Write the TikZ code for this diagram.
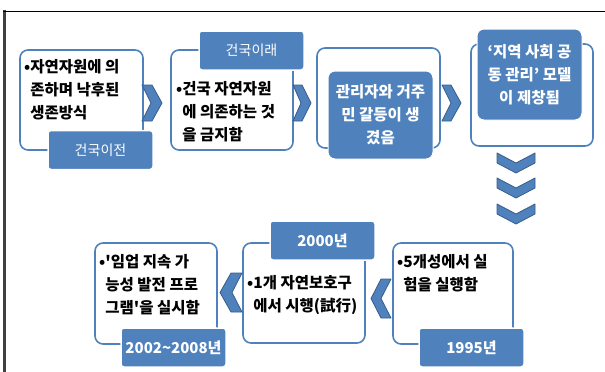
\documentclass[tikz,border=0pt]{standalone}
\usepackage{fontspec}
\newfontfamily\kr{Noto Sans CJK KR}
\definecolor{ofblue}{HTML}{4F81BD}
\definecolor{ofdark}{HTML}{385D8A}
\begin{document}
\begin{tikzpicture}[x=1pt,y=-1pt]
            \tikzstyle{every node}+=[inner sep=0pt]
            \tikzstyle{wbox}=[draw=ofblue, line width=1.6pt, fill=white, rounded corners=8pt]
            \tikzstyle{bbox}=[draw=white, line width=1pt, fill=ofblue, rounded corners=7pt, text=white, align=center, font=\kr\bfseries\fontsize{15.5}{23}\selectfont]
            \tikzstyle{lbox}=[draw=white, line width=1.5pt, fill=ofblue, rounded corners=3pt, text=white, minimum width=105pt, minimum height=39pt]
            \tikzstyle{txt}=[anchor=north west, align=left, font=\kr\bfseries\fontsize{15.5}{23}\selectfont]
            \tikzstyle{chev}=[fill=ofblue, draw=ofdark, line width=0.8pt, line join=round]
                \useasboundingbox (0,0) rectangle (605,372);
                % frame
                \fill [black!75] (3,10) rectangle (6,372);
                \draw [black, line width=0.8pt] (3,11) -- (605,11);
                % top row
                \node [wbox, minimum width=123pt, minimum height=100pt] (b1) at (81.5,100) {};
                \node [txt] (t1) at (24,59) {•자연자원에 의\\\phantom{•}존하며 낙후된\\\phantom{•}생존방식};
                \node [lbox, font=\kr\fontsize{14}{16}\selectfont] (l1) at (100.5,150) {건국이전};
                \draw [chev] (142,85) -- (152,85) -- (162,103) -- (152,121) -- (142,121) -- (151,103) -- cycle;
                \node [wbox, minimum width=122pt, minimum height=100pt] (b2) at (232,100) {};
                \node [txt] (t2) at (176,81) {•건국 자연자원\\\phantom{•}에 의존하는 것\\\phantom{•}을 금지함};
                \node [lbox, font=\kr\fontsize{14}{16}\selectfont] (l2) at (251.5,50.5) {건국이래};
                \draw [chev] (293,85) -- (302,85) -- (311,103) -- (302,121) -- (293,121) -- (301,103) -- cycle;
                \node [wbox, minimum width=123pt, minimum height=100pt] (b3) at (378.5,98) {};
                \node [bbox, minimum width=105pt, minimum height=88pt] (c3) at (380.5,115) {관리자와 거주\\민 갈등이 생\\겼음};
                \draw [chev] (442,85) -- (451,85) -- (461,103) -- (451,121) -- (442,121) -- (451,103) -- cycle;
                \node [wbox, minimum width=122pt, minimum height=102pt] (b4) at (532,95) {};
                \node [bbox, minimum width=105pt, minimum height=91pt] (c4) at (529.5,74.5) {‘지역 사회 공\\동 관리’ 모델\\이 제창됨};
                % down
                \draw [chev] (497,153) -- (516,163) -- (535,153) -- (535,163) -- (516,173) -- (497,163) -- cycle;
                \draw [chev] (497,178) -- (516,188) -- (535,178) -- (535,188) -- (516,198) -- (497,188) -- cycle;
                \draw [chev] (497,204) -- (516,214) -- (535,204) -- (535,214) -- (516,224) -- (497,214) -- cycle;
                % bottom row
                \node [wbox, minimum width=120pt, minimum height=101pt] (b5) at (453,293.5) {};
                \node [txt] (t5) at (397,254) {•5개성에서 실\\\phantom{•}험을 실행함};
                \node [lbox, font=\kr\bfseries\fontsize{15}{16}\selectfont] (l5) at (471.5,347.5) {1995년};
                \draw [chev] (391,279) -- (381,279) -- (371,298.5) -- (381,318) -- (391,318) -- (381,298.5) -- cycle;
                \node [wbox, minimum width=122pt, minimum height=100pt] (b6) at (304,293) {};
                \node [txt] (t6) at (247,275) {•1개 자연보호구\\\phantom{•}에서 시행(試行)};
                \node [lbox, font=\kr\bfseries\fontsize{15}{16}\selectfont] (l6) at (322.5,240.5) {2000년};
                \draw [chev] (242,273) -- (231,273) -- (220,292.5) -- (231,312) -- (242,312) -- (232,292.5) -- cycle;
                \node [wbox, minimum width=122pt, minimum height=101pt] (b7) at (156,293.5) {};
                \node [txt] (t7) at (99,254) {•'임업 지속 가\\\phantom{•}능성 발전 프로\\\phantom{•}그램'을 실시함};
                \node [lbox, font=\kr\bfseries\fontsize{15}{16}\selectfont] (l7) at (173.5,347.5) {2002\textasciitilde2008년};
\end{tikzpicture}
\end{document}
